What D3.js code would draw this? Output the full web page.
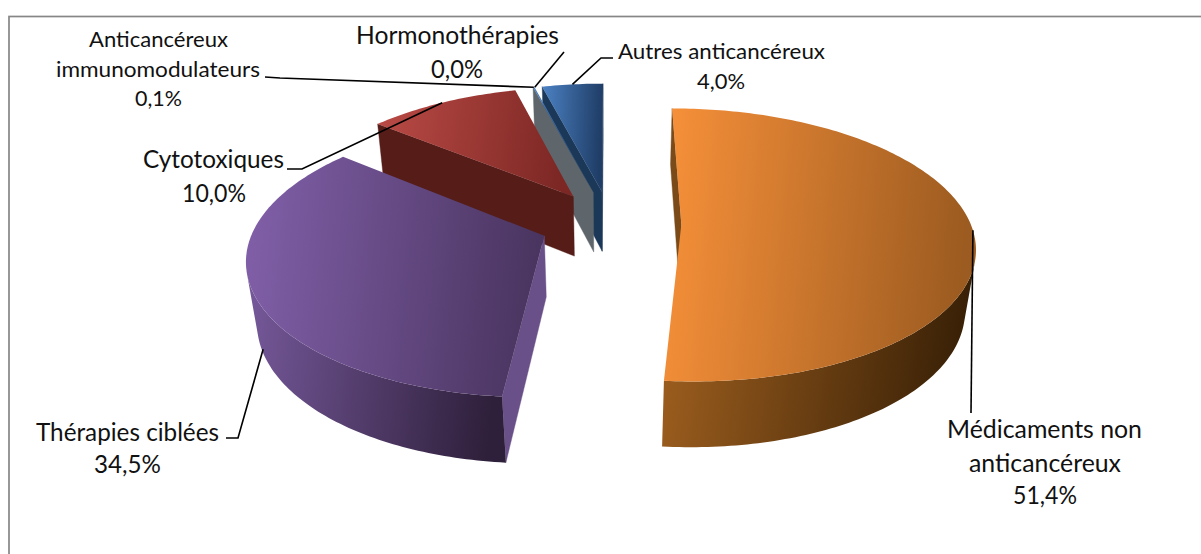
<!DOCTYPE html>
<html><head><meta charset="utf-8">
<style>html,body{margin:0;padding:0;background:#fff}svg{display:block}text{font-family:Lato,"Open Sans",sans-serif;fill:#111}</style>
<script src="https://cdn.jsdelivr.net/npm/d3@7"></script></head>
<body><svg id="c" width="1201" height="554"></svg>
<script>
// Data
const categories=["Médicaments non anticancéreux","Thérapies ciblées","Cytotoxiques","Anticancéreux immunomodulateurs","Hormonothérapies","Autres anticancéreux"];
const shares=[51.4,34.5,10.0,0.1,0.0,4.0];
const shareLabels=["51,4%","34,5%","10,0%","0,1%","0,0%","4,0%"];
// Styles: [top left, top right, rim left, rim right, side wall]
const topLeft=["#f8913a","#8260aa","#bb4b46","#4c82c4","#8d979e","#4c82c4"];
const topRight=["#9c5b20","#4a3560","#7c2724","#1f3d66","#8d979e","#1f3d66"];
const rimLeft=["#a0601f","#76599b","#7c2724","#1f3d66","#5e666c","#1f3d66"];
const rimRight=["#382006","#2e1f3a","#551c18","#1b3657","#5e666c","#1b3657"];
const sideWall=["#7a4a18","#6a5089","#551c18","#5e666c","#5e666c","#1c3859"];
const paintOrder=[5,3,4,2,1,0];
// Labels: lines with [text, x0, x1, baseline], leader bend points
const labelLines=[
 [["Médicaments non",947,1142,438],["anticancéreux",969,1121,472],["51,4%",1013,1077,504]],
 [["Thérapies ciblées",36,219,441],["34,5%",94,161,473]],
 [["Cytotoxiques",143,284,168],["10,0%",182,246,202]],
 [["Anticancéreux",89,228,47],["immunomodulateurs",56,260,77],["0,1%",135,182,106]],
 [["Hormonothérapies",356,559,44],["0,0%",431,483,78]],
 [["Autres anticancéreux",618,825,59],["4,0%",697,745,89]]
];
const fontSizes=[[25,25,25],[25,25],[25,25],[22,22,22],[25,25],[22,22]];
const leaderBends=[[[971,413]],[[238,438],[226,438]],[[302,169],[287,169]],[[280,78],[265,77]],[[564,52]],[[601,58],[613,58]]];
const leaderDepth=[0,0.9,0,0,0,0];

// Projection of the 3D pie
const cam={cx:610.5,cy:223,f:289,fs:133,h:62.5,p:0.15,q:0.03,e:0.245};
function project(a,mid,r,d){
  const X=cam.e*Math.sin(mid)+r*Math.sin(a);
  const Y=-cam.e*Math.cos(mid)-r*Math.cos(a);
  const w=1-cam.p*Y+cam.q*d;
  return [cam.cx+cam.f*X/w, cam.cy+(cam.fs*Y+cam.h*d)/w];
}
const arcs=d3.pie().sort(null).value(d=>d).startAngle(0).endAngle(2*Math.PI)(shares);
const svg=d3.select("#c");
const defs=svg.append("defs");
function grad(id,c0,c1){
  const g=defs.append("linearGradient").attr("id",id).attr("x1",0).attr("x2",1).attr("y1",0).attr("y2",0.08);
  g.append("stop").attr("offset",0).attr("stop-color",c0);
  g.append("stop").attr("offset",1).attr("stop-color",c1);
  return `url(#${id})`;
}
svg.append("rect").attr("x",9).attr("y",16.5).attr("width",1300).attr("height",600).attr("fill","#fff").attr("stroke","#868686").attr("stroke-width",1.7);
const line=d3.line();
const faces=pts=>d3.polygonArea(pts)>0;
paintOrder.forEach(i=>{
  const s=arcs[i]; if(s.endAngle-s.startAngle<=0) return;
  const mid=(s.startAngle+s.endAngle)/2, g=svg.append("g");
  const P=(a,r,d)=>project(a,mid,r,d);
  const n=Math.max(2,Math.ceil((s.endAngle-s.startAngle)/(Math.PI/180)));
  const thetas=d3.range(n+1).map(k=>s.startAngle+(s.endAngle-s.startAngle)*k/n);
  // radial walls
  [[s.startAngle,0,1],[s.endAngle,1,0]].forEach(([a,r0,r1])=>{
    const q=[P(a,r0,0),P(a,r1,0),P(a,r1,1),P(a,r0,1)];
    if(faces(q)) g.append("path").attr("d",line(q)+"Z").attr("fill",sideWall[i]).attr("stroke",sideWall[i]).attr("stroke-width",.4);
  });
  // rim, only the segments that face the viewer
  let run=[],runs=[];
  for(let k=0;k<n;k++){
    const q=[P(thetas[k],1,0),P(thetas[k+1],1,0),P(thetas[k+1],1,1),P(thetas[k],1,1)];
    if(faces(q)){ if(!run.length) run.push(thetas[k]); run.push(thetas[k+1]); }
    else if(run.length){runs.push(run);run=[];}
  }
  if(run.length) runs.push(run);
  const rimFill=grad("rim"+i,rimLeft[i],rimRight[i]);
  runs.forEach(r=>{
    const poly=r.map(a=>P(a,1,0)).concat(r.slice().reverse().map(a=>P(a,1,1)));
    g.append("path").attr("d",line(poly)+"Z").attr("fill",rimFill);
  });
  // top face
  const top=[P(s.startAngle,0,0)].concat(thetas.map(a=>P(a,1,0)));
  g.append("path").attr("d",line(top)+"Z").attr("fill",grad("top"+i,topLeft[i],topRight[i]));
});
// Leader lines
arcs.forEach((s,i)=>{
  const mid=(s.startAngle+s.endAngle)/2;
  const a0=project(mid,mid,1,leaderDepth[i]);
  svg.append("path").attr("d",line([a0].concat(leaderBends[i]))).attr("fill","none").attr("stroke","#000").attr("stroke-width",1.6);
});
// Labels
labelLines.forEach((lines,i)=>{
  lines.forEach(([t,x0,x1,y],j)=>{
    svg.append("text").attr("x",x0).attr("y",y).attr("font-size",fontSizes[i][j]).attr("textLength",x1-x0).attr("lengthAdjust","spacingAndGlyphs").text(t);
  });
});
</script></body></html>
